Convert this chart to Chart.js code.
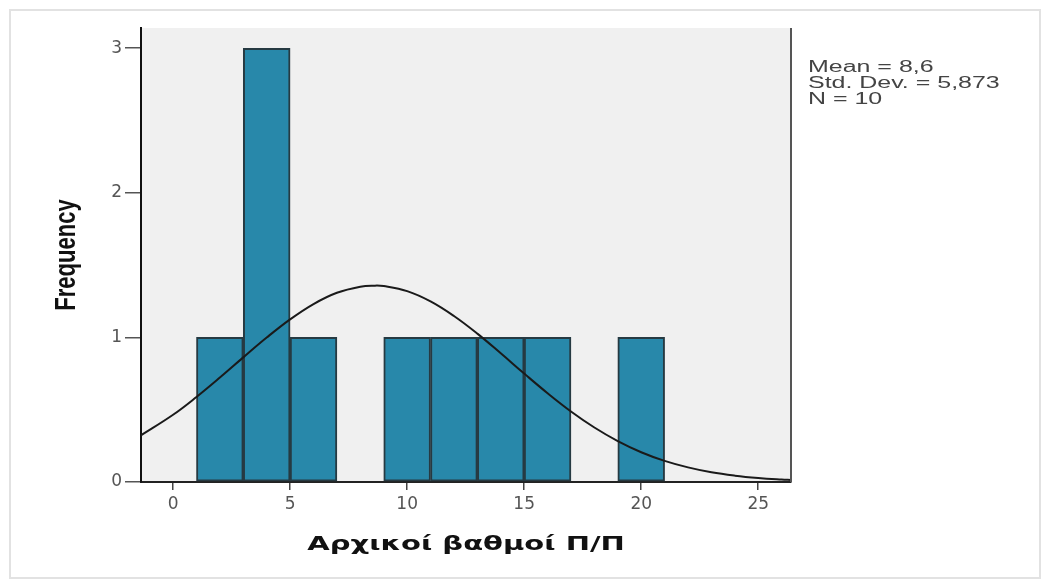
<!DOCTYPE html>
<html>
<head>
<meta charset="utf-8">
<script src="https://cdn.jsdelivr.net/npm/chart.js@4"></script>
<style>
  html, body { margin: 0; padding: 0; background: #fff; }
  canvas { display: block; }
</style>
</head>
<body>
<canvas id="hist" width="1048" height="581"></canvas>
<script>
// histogram bins (width 2) and their counts
const binStarts = [1, 3, 5, 7, 9, 11, 13, 15, 17, 19];
const binCounts = [1, 3, 1, 0, 1, 1, 1, 1, 0, 1];
const binWidth = 2;

// fitted normal curve, sampled along the x range
const curveX = [-1.4, 0, 1, 2, 3, 4, 5, 6, 7, 8, 8.6, 9, 10, 11, 12, 13, 14, 15, 16, 17, 18, 19, 20, 21, 22, 23, 24, 25, 26, 26.4];
const curveY = [0.32, 0.465, 0.588, 0.722, 0.862, 0.999, 1.125, 1.231, 1.309, 1.351, 1.358, 1.355, 1.32, 1.249, 1.148, 1.026, 0.89, 0.75, 0.614, 0.488, 0.377, 0.283, 0.206, 0.146, 0.101, 0.067, 0.044, 0.028, 0.017, 0.014];

const xTicks = [0, 5, 10, 15, 20, 25];
const yTicks = [0, 1, 2, 3];
const xTitle = 'Αρχικοί βαθμοί Π/Π';
const yTitle = 'Frequency';
const statLines = ['Mean = 8,6', 'Std. Dev. = 5,873', 'N = 10'];

const bars = binStarts
  .map((s, i) => ({ x: s + binWidth / 2, y: binCounts[i] }))
  .filter(b => b.y > 0);
const curve = curveX.map((x, i) => ({ x, y: curveY[i] }));

// text here is drawn a bit wider than the font's natural width
function wideText(ctx, text, x, y, sx, align) {
  ctx.save();
  ctx.translate(x, y);
  ctx.scale(sx, 1);
  ctx.textAlign = align;
  ctx.fillText(text, 0, 0);
  ctx.restore();
}

const frame = {
  id: 'frame',
  beforeDraw(chart) {
    const { ctx, chartArea: a } = chart;
    ctx.save();
    ctx.strokeStyle = '#e2e2e2';
    ctx.lineWidth = 2;
    ctx.strokeRect(10, 10, 1030, 568);
    ctx.fillStyle = '#f0f0f0';
    ctx.fillRect(a.left, a.top, a.right - a.left, a.bottom - a.top);
    ctx.restore();
  },
  afterDraw(chart) {
    const { ctx, chartArea: a } = chart;
    ctx.save();
    ctx.strokeStyle = '#555';
    ctx.lineWidth = 2;
    ctx.beginPath();
    ctx.moveTo(a.right, a.top);
    ctx.lineTo(a.right, a.bottom);
    ctx.stroke();

    ctx.fillStyle = '#444';
    ctx.textBaseline = 'middle';
    ctx.font = '16px "Liberation Sans", Arial, sans-serif';
    statLines.forEach((t, i) => wideText(ctx, t, a.right + 17, 68 + i * 16, 1.56, 'left'));

    ctx.fillStyle = '#111';
    ctx.font = 'bold 20px "DejaVu Sans", Verdana, sans-serif';
    wideText(ctx, xTitle, (a.left + a.right) / 2, 545, 1.45, 'center');

    ctx.font = 'bold 22px "Liberation Sans", Arial, sans-serif';
    ctx.translate(67, (a.top + a.bottom) / 2);
    ctx.rotate(-Math.PI / 2);
    ctx.scale(1, 1.3);
    ctx.textAlign = 'center';
    ctx.fillText(yTitle, 0, 0);
    ctx.restore();
  }
};

new Chart(document.getElementById('hist'), {
  data: {
    datasets: [
      {
        type: 'line',
        data: curve,
        borderColor: '#1a1a1a',
        borderWidth: 2,
        pointRadius: 0,
        tension: 0.4,
        fill: false
      },
      {
        type: 'bar',
        data: bars,
        backgroundColor: '#2888aa',
        borderColor: '#263a42',
        borderWidth: 2,
        borderSkipped: false,
        barPercentage: 1,
        categoryPercentage: 1
      }
    ]
  },
  options: {
    responsive: false,
    animation: false,
    layout: { padding: { left: 45, top: 28, right: 257, bottom: 19 } },
    plugins: { legend: { display: false }, tooltip: { enabled: false } },
    scales: {
      x: {
        type: 'linear',
        offset: false,
        min: -1.37,
        max: 26.4,
        afterBuildTicks: s => { s.ticks = xTicks.map(v => ({ value: v })); },
        afterFit: s => { s.height = 80; },
        grid: { offset: false, drawOnChartArea: false, tickLength: 8, color: '#444', lineWidth: 1.5 },
        border: { color: '#222', width: 2 },
        ticks: { color: '#555', padding: 4, font: { size: 17, family: '"DejaVu Sans", Verdana, sans-serif' } }
      },
      y: {
        min: 0,
        max: 3.14,
        afterBuildTicks: s => { s.ticks = yTicks.map(v => ({ value: v })); },
        afterFit: s => { s.width = 96; },
        grid: { drawOnChartArea: false, tickLength: 16, color: '#555', lineWidth: 1.5 },
        border: { color: '#111', width: 2 },
        ticks: { color: '#555', padding: 3, font: { size: 17, family: '"DejaVu Sans", Verdana, sans-serif' } }
      }
    }
  },
  plugins: [frame]
});
</script>
</body>
</html>
